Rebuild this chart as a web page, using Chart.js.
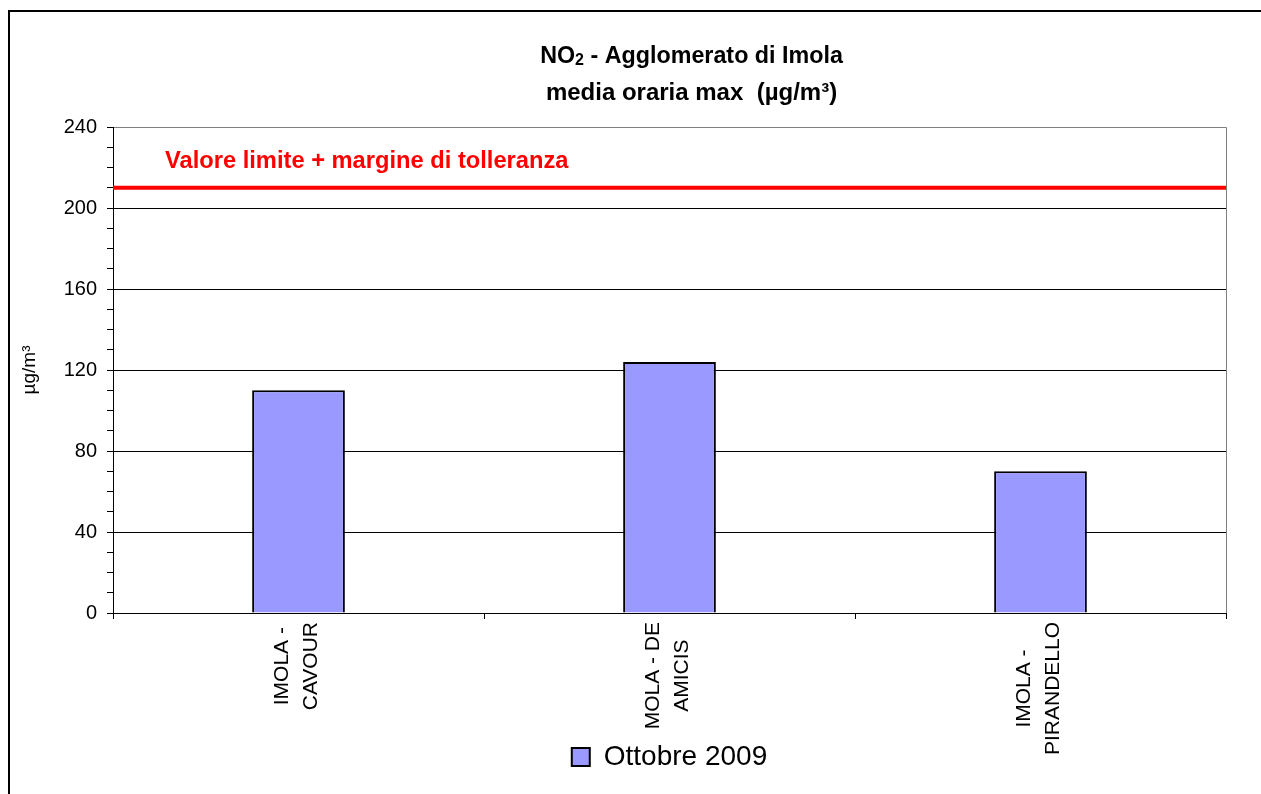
<!DOCTYPE html>
<html lang="it">
<head>
<meta charset="UTF-8">
<title>NO2 - Agglomerato di Imola</title>
<script src="https://cdn.jsdelivr.net/npm/chart.js@4"></script>
<style>
  body { margin: 0; background: #fff; }
  canvas { display: block; }
</style>
</head>
<body>
<canvas id="grafico" width="1261" height="794"></canvas>
<script>
// dati
const stazioni = [['IMOLA -', 'CAVOUR'], ['MOLA - DE', 'AMICIS'], ['IMOLA -', 'PIRANDELLO']];
const valori = [110, 124, 70];
const serie = 'Ottobre 2009';
const valoreLimite = 210;
const etichettaLimite = 'Valore limite + margine di tolleranza';
const titolo = ['NO', '2', ' - Agglomerato di Imola'];
const sottotitolo = 'media oraria max  (µg/m³)';
const unita = 'µg/m³';
const yMax = 240, yPasso = 40, yMinore = 10;

const font = '"Liberation Sans", Arial, sans-serif';

const decorazioni = {
  id: 'decorazioni',
  beforeDraw(chart) {
    const ctx = chart.ctx, a = chart.chartArea;
    ctx.save();
    ctx.fillStyle = '#fff';
    ctx.fillRect(0, 0, chart.width, chart.height);
    // cornice esterna, continua oltre il bordo dell'immagine
    ctx.strokeStyle = '#000';
    ctx.lineWidth = 2;
    ctx.strokeRect(9, 11, chart.width + 100, chart.height + 100);
    // bordo grigio dell'area del grafico
    ctx.strokeStyle = '#808080';
    ctx.lineWidth = 1;
    ctx.beginPath();
    ctx.moveTo(a.left, Math.round(a.top) + 0.5);
    ctx.lineTo(Math.round(a.right) + 0.5, Math.round(a.top) + 0.5);
    ctx.lineTo(Math.round(a.right) + 0.5, a.bottom);
    ctx.stroke();
    ctx.restore();
  },
  afterDatasetsDraw(chart) {
    const ctx = chart.ctx, a = chart.chartArea;
    const y = chart.scales.y.getPixelForValue(valoreLimite);
    ctx.save();
    ctx.strokeStyle = '#ff0000';
    ctx.lineWidth = 4;
    ctx.beginPath();
    ctx.moveTo(a.left, y);
    ctx.lineTo(a.right, y);
    ctx.stroke();
    ctx.fillStyle = '#ff0000';
    ctx.font = 'bold 23.7px ' + font;
    ctx.textBaseline = 'alphabetic';
    ctx.fillText(etichettaLimite, a.left + 52, y - 20);
    ctx.restore();
  },
  afterDraw(chart) {
    const ctx = chart.ctx, a = chart.chartArea;
    ctx.save();
    ctx.fillStyle = '#000';
    // titolo con pedice
    const cx = a.left + a.width / 2 + 22;
    const fTit = 'bold 23.3px ' + font, fPed = 'bold 16px ' + font;
    ctx.font = fTit;
    const w1 = ctx.measureText(titolo[0]).width, w3 = ctx.measureText(titolo[2]).width;
    ctx.font = fPed;
    const w2 = ctx.measureText(titolo[1]).width;
    let x0 = cx - (w1 + w2 + w3) / 2;
    ctx.textAlign = 'left';
    ctx.font = fTit;
    ctx.fillText(titolo[0], x0, 57);
    ctx.font = fPed;
    ctx.fillText(titolo[1], x0 + w1, 61);
    ctx.font = fTit;
    ctx.fillText(titolo[2], x0 + w1 + w2, 57);
    ctx.textAlign = 'center';
    ctx.font = 'bold 24px ' + font;
    ctx.fillText(sottotitolo, cx, 93);

    // etichette delle categorie, ruotate
    const xs = chart.scales.x;
    ctx.font = '21px ' + font;
    ctx.textBaseline = 'middle';
    stazioni.forEach((righe, i) => {
      const x = xs.getPixelForValue(i);
      const larg = Math.max(...righe.map(r => ctx.measureText(r).width));
      ctx.save();
      ctx.translate(x - 2, xs.top + 9 + larg / 2);
      ctx.rotate(-Math.PI / 2);
      righe.forEach((r, k) => ctx.fillText(r, 0, (k - (righe.length - 1) / 2) * 29));
      ctx.restore();
    });
    ctx.restore();
  }
};

new Chart(document.getElementById('grafico'), {
  type: 'bar',
  data: {
    labels: stazioni.map(s => s.join(' ')),
    datasets: [{
      label: serie,
      data: valori,
      backgroundColor: '#9999ff',
      borderColor: '#000',
      borderWidth: 2,
      categoryPercentage: 1,
      barPercentage: 0.25
    }]
  },
  options: {
    responsive: false,
    devicePixelRatio: 1,
    animation: false,
    layout: { padding: { left: 10, right: 35, top: 127, bottom: 13 } },
    plugins: {
      title: { display: false },
      tooltip: { enabled: false },
      legend: {
        position: 'bottom',
        fullSize: false,
        labels: {
          color: '#000',
          font: { size: 28, family: font },
          boxWidth: 18,
          boxHeight: 18
        }
      }
    },
    scales: {
      x: {
        offset: true,
        grid: { offset: true, color: 'rgba(0,0,0,0)', tickColor: '#000', tickLength: 6, drawOnChartArea: false },
        border: { color: '#000', width: 1 },
        ticks: { display: false },
        afterFit(s) { s.height = 120; }
      },
      y: {
        min: 0,
        max: yMax,
        ticks: {
          stepSize: yMinore,
          autoSkip: false,
          padding: 10,
          color: '#000',
          font: { size: 20, family: font },
          callback: v => v % yPasso === 0 ? v : ''
        },
        grid: {
          color: c => c.tick.value === yMax ? '#808080' : (c.tick.value % yPasso === 0 ? '#000' : 'rgba(0,0,0,0)'),
          tickColor: '#000',
          tickLength: 6
        },
        border: { color: '#000', width: 1 },
        title: { display: true, text: unita, color: '#000', font: { size: 19, family: font }, padding: { top: 8, bottom: 0 } },
        afterFit(s) { s.width = 103; }
      }
    }
  },
  plugins: [decorazioni]
});
</script>
</body>
</html>
